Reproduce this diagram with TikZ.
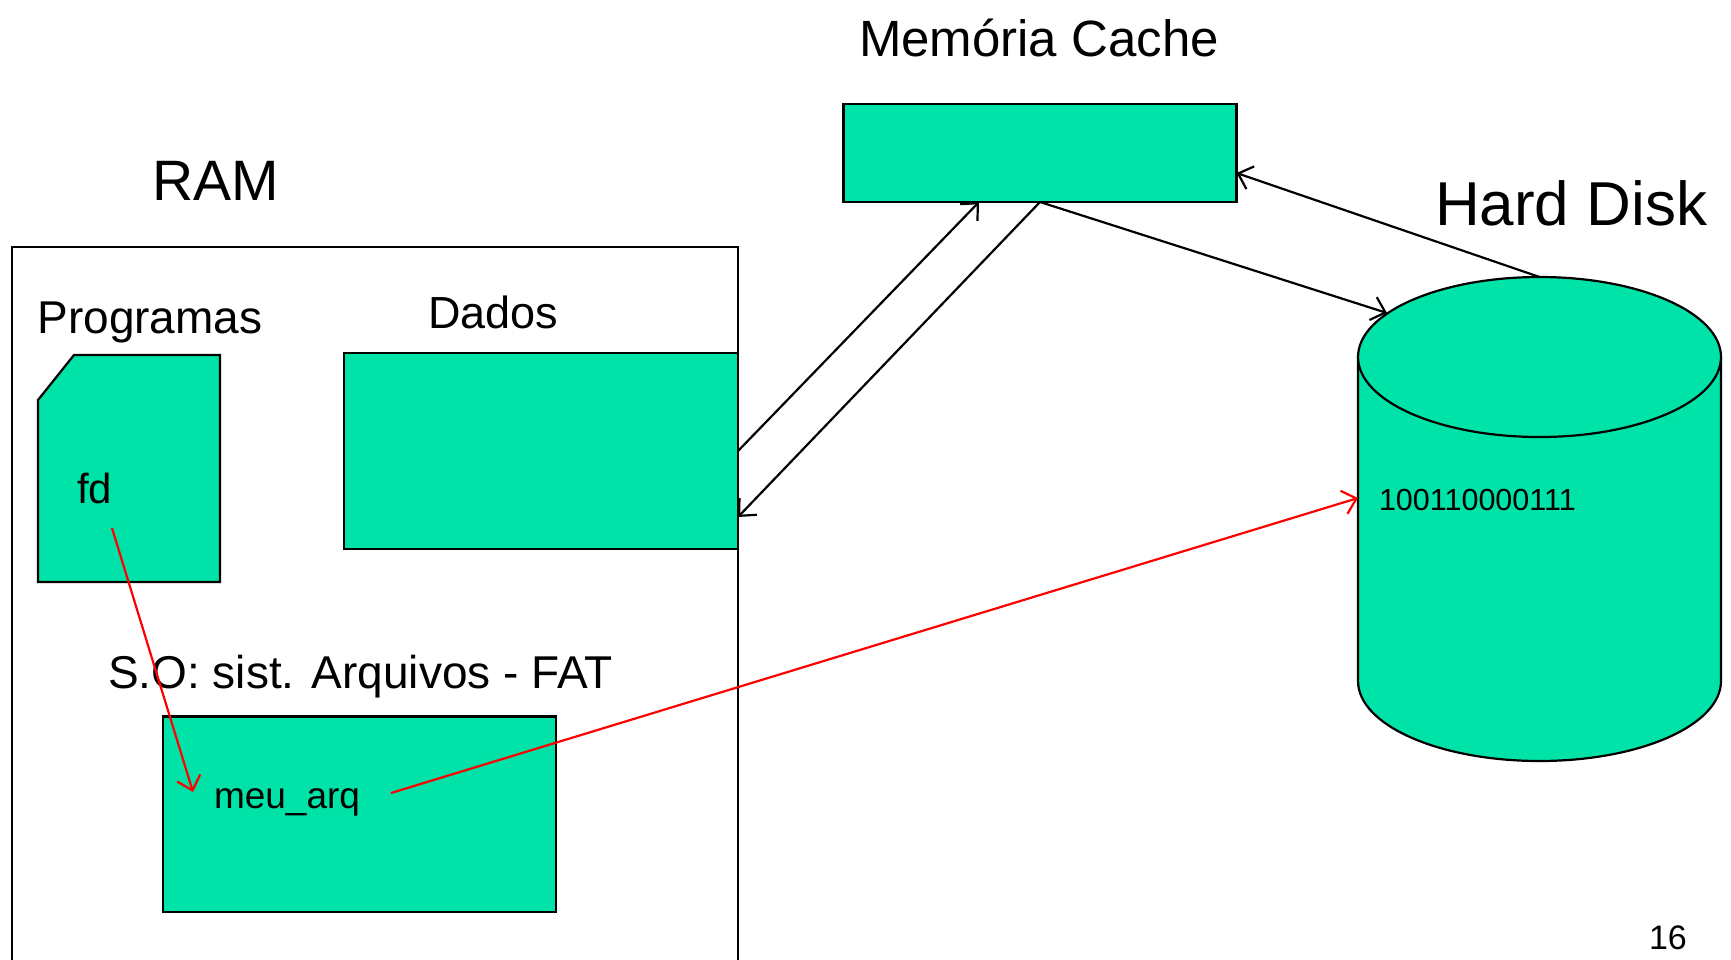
\documentclass[tikz,border=0pt]{standalone}
\usepackage{fontspec}
\setmainfont{Liberation Sans}
\usetikzlibrary{arrows.meta}
\definecolor{tealfill}{RGB}{0,227,168}
\begin{document}
\begin{tikzpicture}[x=1pt,y=-1pt,line width=2.2pt,
  box/.style={draw=black,fill=tealfill,inner sep=0pt,outer sep=0pt},
  lbl/.style={anchor=base west,inner sep=0pt,outer sep=0pt},
  arr/.style={-{Straight Barb[length=13pt,width=24pt]},line width=2.2pt},
  redarr/.style={arr,draw=red}]
\useasboundingbox (0,0) rectangle (1731,959);
\fill[white] (0,0) rectangle (1731,959);

% RAM outline (open at the bottom)
\draw (12,962) -- (12,247) -- (738,247) -- (738,962);

% boxes
\node[box,minimum width=394pt,minimum height=196pt] (dados) at (541,451) {};
\node[box,minimum width=393pt,minimum height=98pt] (cache) at (1040,153) {};
\node[box,minimum width=393pt,minimum height=195.5pt] (fat) at (359.5,814.25) {};

% program document shape
\draw[fill=tealfill,line join=miter] (74,355) -- (220,355) -- (220,582) -- (38,582) -- (38,400) -- cycle;

% hard disk cylinder
\draw[fill=tealfill] (1358,357) -- (1358,681) arc[start angle=180,end angle=360,x radius=181.5pt,y radius=80pt] -- (1721,357);
\draw[fill=tealfill] (1539.5,357) ellipse [x radius=181.5pt,y radius=80pt];

% labels
\node[lbl,font=\fontsize{57}{60}\selectfont] (ram) at (152,200) {RAM};
\node[lbl,font=\fontsize{51}{55}\selectfont] (memc) at (859,56) {Memória Cache};
\node[lbl,font=\fontsize{62}{66}\selectfont] (hd) at (1435,225) {Hard Disk};
\node[lbl,font=\fontsize{46}{50}\selectfont] (prog) at (37.5,333) {Programas};
\node[lbl,font=\fontsize{45}{50}\selectfont] (dadoslbl) at (428,328) {Dados};
\node[lbl,font=\fontsize{42}{46}\selectfont] (fd) at (77,503) {fd};
\node[lbl,font=\fontsize{46}{50}\selectfont] (so) at (108,688) {S.O: sist. Arquivos - FAT};
\node[lbl,font=\fontsize{37}{41}\selectfont] (meu) at (214,808) {meu\_arq};
\node[lbl,font=\fontsize{30.5}{34}\selectfont] (bits) at (1379,510) {100110000111};
\node[lbl,font=\fontsize{34}{38}\selectfont] (pg) at (1649,949) {16};

% connector end points
\coordinate (cacheA) at (979,202);
\coordinate (dadosB) at (738,517);
\coordinate (hdA) at (1387,313);
\coordinate (hdtop) at (1539.5,277);
\coordinate (cacheB) at (1236.5,173);
\coordinate (fdA) at (112,528);
\coordinate (fatA) at (193,792);
\coordinate (fatB) at (391,793);
\coordinate (hdB) at (1358,498);

% black connectors
\draw[arr] (dados.east) -- (cacheA);
\draw[arr] (cache.south) -- (dadosB);
\draw[arr] (cache.south) -- (hdA);
\draw[arr] (hdtop) -- (cacheB);

% red connectors
\draw[redarr] (fdA) -- (fatA);
\draw[redarr] (fatB) -- (hdB);
\end{tikzpicture}
\end{document}
